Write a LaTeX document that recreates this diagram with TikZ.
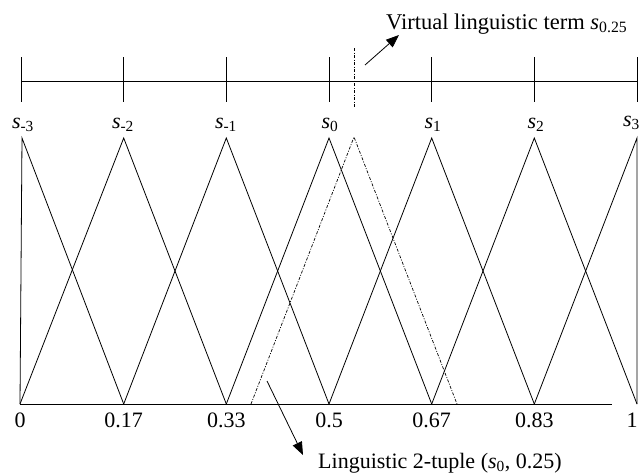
\documentclass[tikz,border=0pt]{standalone}
\usepackage{fontspec}
\setmainfont{Liberation Serif}
\usetikzlibrary{arrows.meta}
\begin{document}
\begin{tikzpicture}[x=1pt,y=-1pt,
  ln/.style={line width=0.8pt},
  dd/.style={line width=0.7pt, dash pattern=on 3pt off 1.5pt on 1pt off 1.5pt},
  slab/.style={font=\fontsize{22}{22}\selectfont, inner sep=0pt, anchor=base},
  nlab/.style={font=\fontsize{22}{22}\selectfont, inner sep=0pt, anchor=base},
  tlab/.style={font=\fontsize{22.5}{22.5}\selectfont, inner sep=0pt, anchor=base west},
  arr/.style={line width=0.8pt,-{Triangle[length=13pt,width=10pt]}}
]
\useasboundingbox (0,0) rectangle (644,475);
\foreach \i/\x in {0/21,1/123.7,2/226.3,3/329,4/431.7,5/534.3,6/637}{
  \coordinate (tt\i) at (\x,57);
  \coordinate (tb\i) at (\x,102);
  \coordinate (ap\i) at (\x,138);
  \coordinate (b\i) at (\x,404);
}
\coordinate (ap0) at (22,138);
\coordinate (b0) at (20,404);
% top axis
\coordinate (axL) at (21,81);
\coordinate (axR) at (637,81);
\draw[ln] (axL) -- (axR);
\foreach \i in {0,...,6}{ \draw[ln] (tt\i) -- (tb\i); }
\coordinate (vt) at (354,48);
\coordinate (vb) at (354,107);
\draw[dd] (vt) -- (vb);
% triangles
\draw[ln] (b0) -- (ap0) -- (b1);
\draw[ln] (b0) -- (ap1) -- (b2);
\draw[ln] (b1) -- (ap2) -- (b3);
\draw[ln] (b2) -- (ap3) -- (b4);
\draw[ln] (b3) -- (ap4) -- (b5);
\draw[ln] (b4) -- (ap5) -- (b6);
\draw[ln] (b5) -- (ap6) -- (b6);
% virtual triangle
\coordinate (va) at (354,137);
\coordinate (vl) at (251,404);
\coordinate (vr) at (457,404);
\draw[dd] (vl) -- (va) -- (vr);
% bottom axis
\coordinate (bR) at (612,404);
\draw[ln] (b0) -- (bR);
% labels
\node[slab] (s0) at (23,128) {\textit{s}\textsubscript{-3}};
\node[slab] (s1) at (123,128) {\textit{s}\textsubscript{-2}};
\node[slab] (s2) at (226,128) {\textit{s}\textsubscript{-1}};
\node[slab] (s3) at (330,128) {\textit{s}\textsubscript{0}};
\node[slab] (s4) at (433,128) {\textit{s}\textsubscript{1}};
\node[slab] (s5) at (536,128) {\textit{s}\textsubscript{2}};
\node[slab, anchor=base east] (s6) at (640,126) {\textit{s}\textsubscript{3}};
\node[nlab] (n0) at (20,427) {0};
\node[nlab] (n1) at (123.7,427) {0.17};
\node[nlab] (n2) at (226.3,427) {0.33};
\node[nlab] (n3) at (329,427) {0.5};
\node[nlab] (n4) at (431.7,427) {0.67};
\node[nlab] (n5) at (534.3,427) {0.83};
\node[nlab] (n6) at (632,427) {1};
% annotations
\node[tlab] (vtxt) at (386,29) {Virtual linguistic term \textit{s}\textsubscript{0.25}};
\node[nlab, anchor=base west] (ltxt) at (318,468) {Linguistic 2-tuple (\textit{s}\textsubscript{0}, 0.25)};
\coordinate (a1s) at (365,65);
\coordinate (a1e) at (399,35);
\draw[arr] (a1s) -- (a1e);
\coordinate (a2s) at (267,381);
\coordinate (a2e) at (303,455);
\draw[arr] (a2s) -- (a2e);
\end{tikzpicture}
\end{document}
